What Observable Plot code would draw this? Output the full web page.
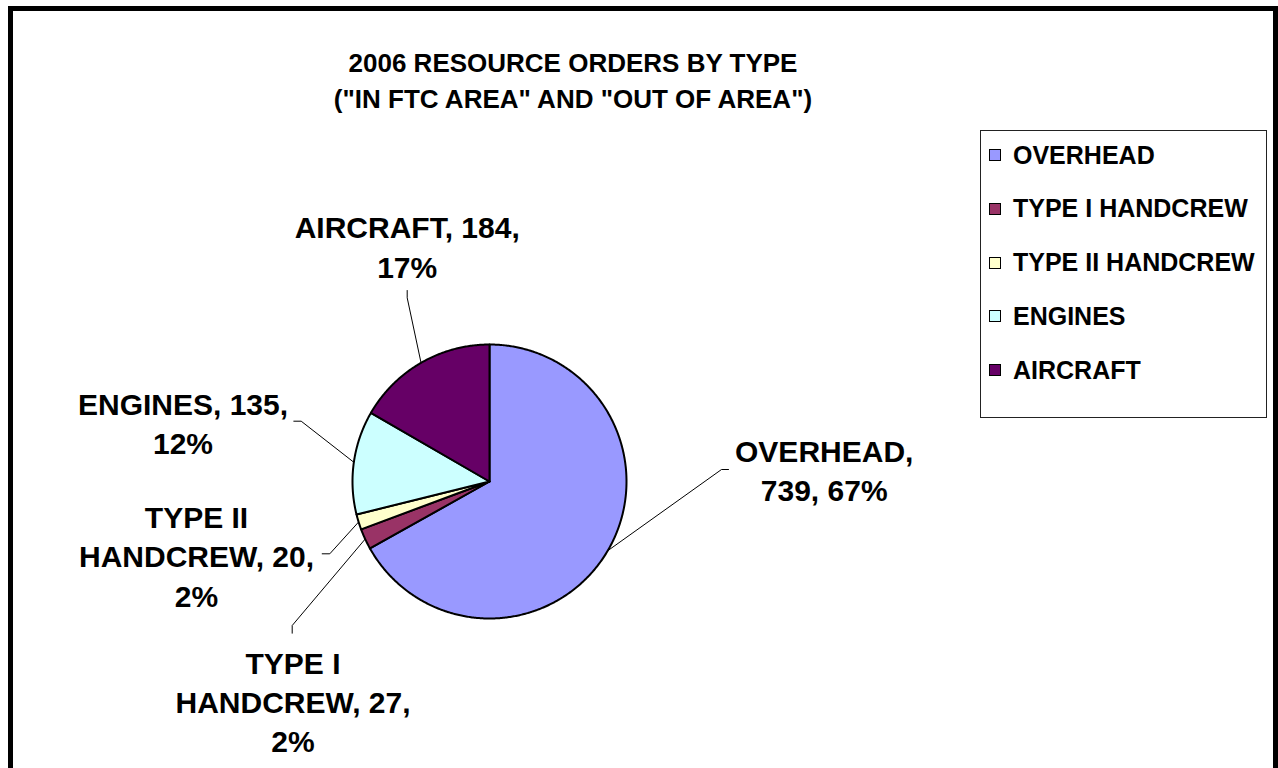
<!DOCTYPE html>
<html>
<head>
<meta charset="utf-8">
<script src="https://cdn.jsdelivr.net/npm/d3@7"></script>
<script src="https://cdn.jsdelivr.net/npm/@observablehq/plot@0.6"></script>
<style>
  html, body { margin: 0; padding: 0; background: #fff; overflow: hidden; }
  #root { position: relative; width: 1278px; height: 768px; overflow: hidden;
          font-family: "Liberation Sans", Arial, sans-serif; font-weight: bold; color: #000; }
  #frame { position: absolute; left: 8px; top: 6px; width: 1270px; height: 820px;
           border: 5px solid #000; box-sizing: border-box; pointer-events: none; }
  #title { position: absolute; left: 273px; top: 45px; width: 600px; text-align: center;
           font-size: 26px; line-height: 36px; white-space: nowrap; }
  #legend { position: absolute; left: 980px; top: 130px; width: 287px; height: 288px;
            border: 1px solid #222; box-sizing: border-box; background: #fff; }
  .item { position: absolute; left: 8px; height: 30px; display: flex; align-items: center;
          font-size: 25px; white-space: nowrap; }
  .sw { width: 12px; height: 12px; border: 1px solid #000; box-sizing: border-box; margin-right: 12px; }
  #chart { position: absolute; left: 0; top: 0; }
</style>
</head>
<body>
<div id="root">
  <div id="chart"></div>
  <div id="title">2006 RESOURCE ORDERS BY TYPE<br>("IN FTC AREA" AND "OUT OF AREA")</div>
  <div id="legend"></div>
  <div id="frame"></div>
</div>
<script>
// ---- data ----
const categories = ["OVERHEAD", "TYPE I HANDCREW", "TYPE II HANDCREW", "ENGINES", "AIRCRAFT"];
const values = [739, 27, 20, 135, 184];
const colors = ["#9999FF", "#993366", "#FFFFCC", "#CCFFFF", "#660066"];

// ---- layout (label placement relative to pie centre, y up; px units) ----
const labelLayout = [
  {lx: 334.7,  ly: 12.3,   ex: 232,    ey: 12,    ax: 239,    ay: 12,     wrap: 9},
  {lx: -196.5, ly: -218.8, ex: -197.3, ey: -144,  ax: -197.3, ay: -151.7, wrap: 13},
  {lx: -293,   ly: -73.2,  ex: -159.7, ey: -72.3, ax: -167.3, ay: -72.3,  wrap: 13},
  {lx: -306.5, ly: 59.4,   ex: -188.3, ey: 60.3,  ax: -195.7, ay: 60.3,   wrap: 13},
  {lx: -82.3,  ly: 236,    ex: -82.3,  ey: 183.7, ax: -82.3,  ay: 191,    wrap: 14}
];
const R = 137;

const total = d3.sum(values);
const arcs = d3.pie().sort(null).value(d => d)(values);

// slice polygons
const slicePts = [];
arcs.forEach((a, i) => {
  const name = categories[i];
  slicePts.push({name, x: 0, y: 0});
  const n = Math.max(2, Math.ceil((a.endAngle - a.startAngle) / (Math.PI / 360)));
  for (let k = 0; k <= n; k++) {
    const t = a.startAngle + (a.endAngle - a.startAngle) * k / n;
    slicePts.push({name, x: R * Math.sin(t), y: R * Math.cos(t)});
  }
  slicePts.push({name, x: 0, y: 0});
});

// leader lines
const leaderPts = [];
arcs.forEach((a, i) => {
  const name = categories[i];
  const L = labelLayout[i];
  const m = (a.startAngle + a.endAngle) / 2;
  leaderPts.push({name, x: R * Math.sin(m), y: R * Math.cos(m)});
  leaderPts.push({name, x: L.ex, y: L.ey});
  leaderPts.push({name, x: L.ax, y: L.ay});
});

// label texts
function wrapText(tokens, maxChars) {
  const lines = [];
  let cur = "";
  for (const t of tokens) {
    if (cur === "") cur = t;
    else if ((cur + " " + t).length <= maxChars) cur += " " + t;
    else { lines.push(cur); cur = t; }
  }
  if (cur) lines.push(cur);
  return lines.join("\n");
}
const labels = categories.map((name, i) => {
  const pct = Math.round(values[i] / total * 100);
  const tokens = (name + ", " + values[i] + ", " + pct + "%").split(" ");
  return {name, x: labelLayout[i].lx, y: labelLayout[i].ly, text: wrapText(tokens, labelLayout[i].wrap)};
});

const font = "Liberation Sans, Arial, sans-serif";
const chart = Plot.plot({
  width: 1278,
  height: 768,
  margin: 0,
  x: {domain: [-489, 789], axis: null},
  y: {domain: [-287, 481], axis: null},
  color: {domain: categories, range: colors},
  style: {background: "transparent", fontFamily: font, overflow: "visible"},
  marks: [
    Plot.line(leaderPts, {x: "x", y: "y", z: "name", stroke: "#000", strokeWidth: 1}),
    Plot.line(slicePts, {x: "x", y: "y", z: "name", fill: "name", stroke: "#000", strokeWidth: 2, strokeLinejoin: "round"}),
    Plot.text(labels, {x: "x", y: "y", text: "text", fontSize: 30, fontWeight: "bold", fontFamily: font,
      fill: "#000", textAnchor: "middle", lineAnchor: "middle", lineHeight: 1.31})
  ]
});
document.getElementById("chart").appendChild(chart);

// legend
const legend = document.getElementById("legend");
categories.forEach((name, i) => {
  const item = document.createElement("div");
  item.className = "item";
  item.style.top = (155 - 130 - 15 - 1 + i * 53.75) + "px";
  const sw = document.createElement("div");
  sw.className = "sw";
  sw.style.background = colors[i];
  const tx = document.createElement("span");
  tx.textContent = name;
  item.appendChild(sw);
  item.appendChild(tx);
  legend.appendChild(item);
});
</script>
</body>
</html>
